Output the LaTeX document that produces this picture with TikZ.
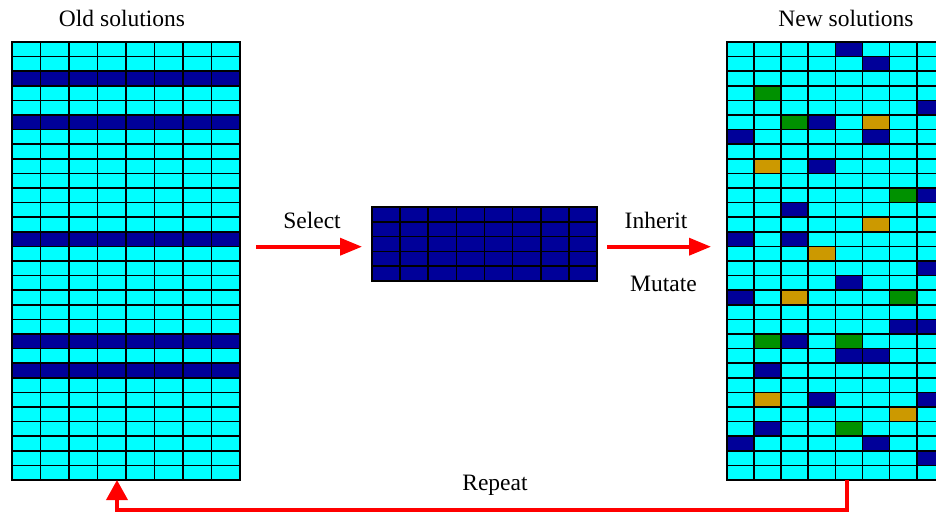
\documentclass[tikz,border=0pt]{standalone}
\usepackage{fontspec}
\setmainfont{Liberation Serif}
\usetikzlibrary{arrows.meta}

\definecolor{cellcyan}{RGB}{0,255,255}
\definecolor{celldark}{RGB}{0,0,153}
\definecolor{cellgreen}{RGB}{0,145,0}
\definecolor{cellgold}{RGB}{204,153,0}
\definecolor{flowred}{RGB}{255,0,0}

% grid lines of a table of cells: x0, y0, cell width, cell height, columns, rows
\newcommand\cellgridlines[6]{%
  \foreach \i in {0,...,#5}
    \draw[gridline] ({#1+\i*#3},{#2}) -- ({#1+\i*#3},{#2+#6*#4});
  \foreach \j in {0,...,#6}
    \draw[gridline] ({#1},{#2+\j*#4}) -- ({#1+#5*#3},{#2+\j*#4});
}

\begin{document}
\begin{tikzpicture}[x=1pt,y=-1pt,
  caption/.style={font=\fontsize{23.5}{28}\selectfont, anchor=base, inner sep=0pt},
  gridline/.style={black, line width=1.7pt, line cap=rect},
  area/.style={inner sep=0pt, outer sep=0pt, anchor=north west},
  flow/.style={flowred, line width=3.6pt},
  smalltip/.style={-{Triangle[length=22pt,width=17pt]}},
  bigtip/.style={-{Triangle[length=20pt,width=21pt]}},
]
\clip (0,0) rectangle (936,514);

% ---- old solutions: 30 x 8, whole rows selected ----
\fill[cellcyan] (12,42) rectangle ++(228,438);
\foreach \r in {2,5,13,20,22}
  \fill[celldark] (12,{42+\r*14.6}) rectangle ++(228,14.6);
\cellgridlines{12}{42}{28.5}{14.6}{8}{30}
\node[area, minimum width=228pt, minimum height=438pt] (old) at (12,42) {};

% ---- selected rows: 5 x 8 ----
\fill[celldark] (372,207) rectangle ++(225,74);
\cellgridlines{372}{207}{28.125}{14.8}{8}{5}
\node[area, minimum width=225pt, minimum height=74pt] (mid) at (372,207) {};

% ---- new solutions: 30 x 8, single changed genes ----
\fill[cellcyan] (727,42) rectangle ++(216.8,438);
\foreach \r/\c in {0/4,1/5,4/7,5/3,6/0,6/5,8/3,10/7,11/2,13/0,13/2,15/7,16/4,
                   17/0,19/6,19/7,20/2,21/4,21/5,22/1,24/3,24/7,26/1,27/0,27/5,28/7}
  \fill[celldark] ({727+\c*27.1},{42+\r*14.6}) rectangle ++(27.1,14.6);
\foreach \r/\c in {3/1,5/2,10/6,17/6,20/1,20/4,26/4}
  \fill[cellgreen] ({727+\c*27.1},{42+\r*14.6}) rectangle ++(27.1,14.6);
\foreach \r/\c in {5/5,8/1,12/5,14/3,17/2,24/1,25/6}
  \fill[cellgold] ({727+\c*27.1},{42+\r*14.6}) rectangle ++(27.1,14.6);
\cellgridlines{727}{42}{27.1}{14.6}{8}{30}
\node[area, minimum width=216.8pt, minimum height=438pt] (new) at (727,42) {};

% ---- captions ----
\node[caption] (oldcap) at (122,27) {Old solutions};
\node[caption] (newcap) at (846,27) {New solutions};
\node[caption] (selcap) at (312,228) {Select};
\node[caption] (inhcap) at (656,228) {Inherit};
\node[caption] (mutcap) at (663.5,291) {Mutate};
\node[caption] (repcap) at (495,490) {Repeat};

% ---- flow arrows ----
\coordinate (flowrow) at (0,246.7);
\draw[flow, smalltip, shorten <=16pt, shorten >=10pt]
  (old.east |- flowrow) -- (mid.west |- flowrow);
\draw[flow, smalltip, shorten <=10pt, shorten >=16pt]
  (mid.east |- flowrow) -- (new.west |- flowrow);

\coordinate (repright) at (847,510);
\coordinate (repleft) at (117,510);
\draw[flow, bigtip]
  (new.south -| repright) -- (repright) -- (repleft) -- (old.south -| repleft);
\end{tikzpicture}
\end{document}
